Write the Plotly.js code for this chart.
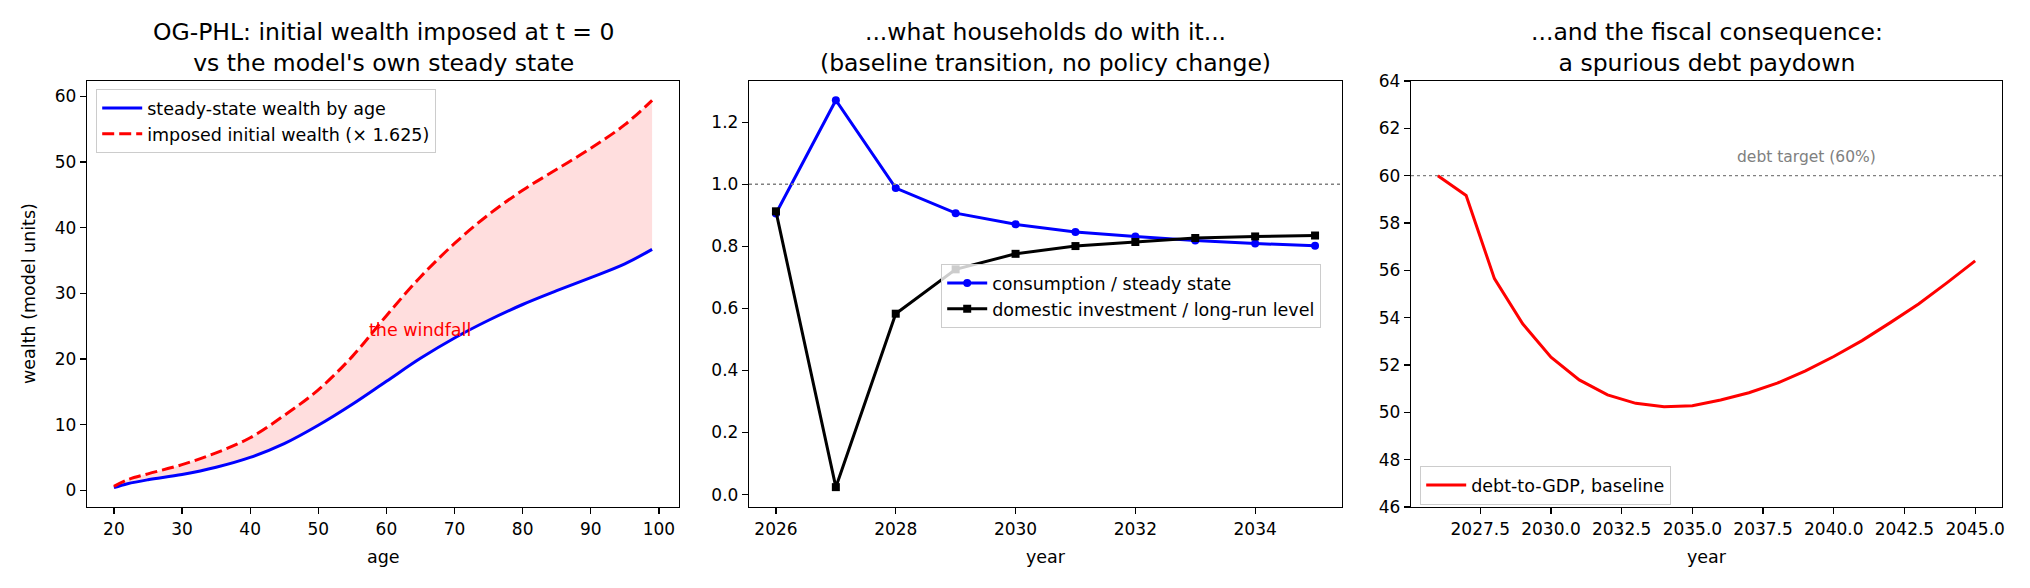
<!DOCTYPE html>
<html>
<head>
<meta charset="utf-8">
<script src="https://cdn.plot.ly/plotly-3.0.1.min.js"></script>
<style>
  html, body { margin: 0; padding: 0; background: #fff; }
  #chart { width: 2030px; height: 588px; }
</style>
</head>
<body>
<div id="chart"></div>
<script>
// panel 1: wealth by age
const ages = [20, 22, 25, 30, 35, 40, 45, 50, 55, 60, 65, 70, 75, 80, 85, 90, 95, 99];
const wealthSteady = [0.4, 1.0, 1.6, 2.4, 3.5, 5.0, 7.1, 9.9, 13.1, 16.6, 20.1, 23.2, 25.9, 28.3, 30.4, 32.4, 34.5, 36.7];
const wealthImposed = [0.6, 1.6, 2.5, 3.9, 5.7, 8.0, 11.4, 15.3, 20.4, 26.6, 32.5, 37.6, 42.0, 45.7, 48.9, 52.1, 55.7, 59.4];

// panel 2: baseline transition
const years = [2026, 2027, 2028, 2029, 2030, 2031, 2032, 2033, 2034, 2035];
const consumption = [0.906, 1.271, 0.988, 0.907, 0.871, 0.846, 0.832, 0.819, 0.809, 0.802];
const investment = [0.913, 0.024, 0.583, 0.726, 0.776, 0.801, 0.814, 0.827, 0.832, 0.835];

// panel 3: debt-to-GDP
const debtYears = [2026, 2027, 2028, 2029, 2030, 2031, 2032, 2033, 2034, 2035,
    2036, 2037, 2038, 2039, 2040, 2041, 2042, 2043, 2044, 2045];
const debtGDP = [60.0, 59.16, 55.65, 53.74, 52.33, 51.37, 50.74, 50.38, 50.24, 50.28,
    50.52, 50.83, 51.23, 51.75, 52.36, 53.03, 53.79, 54.58, 55.47, 56.40];

const titles = [
    "OG-PHL: initial wealth imposed at t = 0<br>vs the model's own steady state",
    "...what households do with it...<br>(baseline transition, no policy change)",
    "...and the fiscal consequence:<br>a spurious debt paydown",
];

const FONT = 'DejaVu Sans';
const W = 2030, H = 588;
// axes boxes in pixels [left, right], shared top/bottom
const boxes = [[87, 679], [749, 1342], [1411, 2002]];
const boxTop = 81, boxBottom = 507;

const axisBase = () => ({
    showgrid: false,
    zeroline: false,
    ticks: 'outside',
    ticklen: 6,
    tickwidth: 1.2,
    tickcolor: '#000',
    showline: true,
    mirror: true,
    linecolor: '#000',
    linewidth: 1.2,
    tickfont: { family: FONT, size: 17, color: '#000' },
});

const data = [
    // fill between the two wealth curves
    {
        x: ages, y: wealthSteady, type: 'scatter', mode: 'lines',
        line: { width: 0, shape: 'spline' }, showlegend: false, hoverinfo: 'skip',
        xaxis: 'x', yaxis: 'y',
    },
    {
        x: ages, y: wealthImposed, type: 'scatter', mode: 'lines',
        line: { width: 0, shape: 'spline' }, fill: 'tonexty', fillcolor: 'rgba(255,0,0,0.13)',
        showlegend: false, hoverinfo: 'skip',
        xaxis: 'x', yaxis: 'y',
    },
    {
        name: 'steady-state wealth by age', legendgroup: 'a',
        x: ages, y: wealthSteady, type: 'scatter', mode: 'lines',
        line: { color: '#0000ff', width: 3, shape: 'spline' },
        xaxis: 'x', yaxis: 'y', legend: 'legend',
    },
    {
        name: 'imposed initial wealth (× 1.625)', legendgroup: 'b',
        x: ages, y: wealthImposed, type: 'scatter', mode: 'lines',
        line: { color: '#ff0000', width: 3, dash: '12px,5px', shape: 'spline' },
        xaxis: 'x', yaxis: 'y', legend: 'legend',
    },
    {
        name: 'consumption / steady state', legendgroup: 'c',
        x: years, y: consumption, type: 'scatter', mode: 'lines+markers',
        line: { color: '#0000ff', width: 3 },
        marker: { symbol: 'circle', size: 8, color: '#0000ff' },
        xaxis: 'x2', yaxis: 'y2', legend: 'legend2',
    },
    {
        name: 'domestic investment / long-run level', legendgroup: 'd',
        x: years, y: investment, type: 'scatter', mode: 'lines+markers',
        line: { color: '#000000', width: 3 },
        marker: { symbol: 'square', size: 8, color: '#000000' },
        xaxis: 'x2', yaxis: 'y2', legend: 'legend2',
    },
    {
        name: 'debt-to-GDP, baseline', legendgroup: 'e',
        x: debtYears, y: debtGDP, type: 'scatter', mode: 'lines',
        line: { color: '#ff0000', width: 3 },
        xaxis: 'x3', yaxis: 'y3', legend: 'legend3',
    },
];

const dom = boxes.map(b => [b[0] / W, b[1] / W]);
const yDom = [1 - boxBottom / H, 1 - boxTop / H];

const legendBase = {
    bgcolor: 'rgba(255,255,255,0.8)',
    bordercolor: '#cccccc',
    borderwidth: 1.2,
    font: { family: FONT, size: 17.5, color: '#000' },
    xanchor: 'left',
    yanchor: 'top',
    itemwidth: 40,
    traceorder: 'normal',
    tracegroupgap: 3,
};

const layout = {
    width: W,
    height: H,
    margin: { l: 0, r: 0, t: 0, b: 0 },
    paper_bgcolor: '#fff',
    plot_bgcolor: '#fff',
    font: { family: FONT, size: 17, color: '#000' },
    xaxis: { ...axisBase(), domain: dom[0], anchor: 'y', range: [16.05, 102.95], tickvals: [20, 30, 40, 50, 60, 70, 80, 90, 100] },
    yaxis: { ...axisBase(), domain: yDom, anchor: 'x', range: [-2.55, 62.35], tickvals: [0, 10, 20, 30, 40, 50, 60] },
    xaxis2: { ...axisBase(), domain: dom[1], anchor: 'y2', range: [2025.55, 2035.45], tickvals: [2026, 2028, 2030, 2032, 2034] },
    yaxis2: { ...axisBase(), domain: yDom, anchor: 'x2', range: [-0.04, 1.333], tickvals: [0, 0.2, 0.4, 0.6, 0.8, 1.0, 1.2], tickformat: '.1f' },
    xaxis3: { ...axisBase(), domain: dom[2], anchor: 'y3', range: [2025.05, 2045.95], tickmode: 'linear', tick0: 2025, dtick: 2.5, tickformat: '.1f' },
    yaxis3: { ...axisBase(), domain: yDom, anchor: 'x3', range: [46, 64], tickmode: 'linear', tick0: 46, dtick: 2 },
    legend: { ...legendBase, x: 96 / W, y: 1 - 89 / H },
    legend2: { ...legendBase, x: 941 / W, y: 1 - 264 / H },
    legend3: { ...legendBase, x: 1420 / W, y: 1 - 466 / H },
    shapes: [
        { type: 'line', xref: 'x2 domain', yref: 'y2', x0: 0, x1: 1, y0: 1.0, y1: 1.0, line: { color: '#808080', width: 1.4, dash: 'dot' } },
        { type: 'line', xref: 'x3 domain', yref: 'y3', x0: 0, x1: 1, y0: 60, y1: 60, line: { color: '#808080', width: 1.4, dash: 'dot' } },
    ],
    annotations: [
        ...titles.map((t, i) => ({
            text: t, xref: 'paper', yref: 'paper',
            x: (dom[i][0] + dom[i][1]) / 2, y: 1 - 47.5 / H,
            xanchor: 'center', yanchor: 'middle', showarrow: false,
            font: { family: FONT, size: 23.5, color: '#000' },
        })),
        { text: 'wealth (model units)', xref: 'paper', yref: 'paper', x: 29 / W, y: (yDom[0] + yDom[1]) / 2, textangle: -90, xanchor: 'center', yanchor: 'middle', showarrow: false, font: { family: FONT, size: 17.5 } },
        ...['age', 'year', 'year'].map((t, i) => ({
            text: t, xref: 'paper', yref: 'paper',
            x: (dom[i][0] + dom[i][1]) / 2, y: 1 - 557 / H,
            xanchor: 'center', yanchor: 'middle', showarrow: false,
            font: { family: FONT, size: 17.5 },
        })),
        { text: 'the windfall', xref: 'x', yref: 'y', x: 57.2, y: 24.4, xanchor: 'left', yanchor: 'middle', showarrow: false, font: { family: FONT, size: 17.5, color: '#ff0000' } },
        { text: 'debt target (60%)', xref: 'x3', yref: 'y3', x: 2036.5, y: 60.79, xanchor: 'left', yanchor: 'middle', showarrow: false, font: { family: FONT, size: 15.5, color: '#808080' } },
    ],
};

Plotly.newPlot('chart', data, layout, { staticPlot: true, displayModeBar: false });
</script>
</body>
</html>
